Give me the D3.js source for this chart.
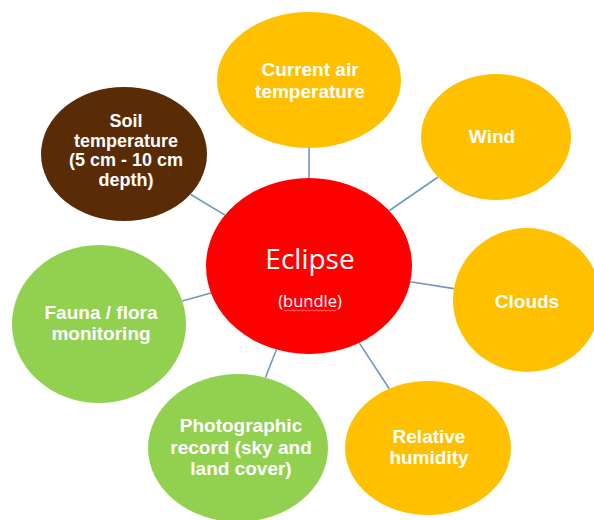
<!DOCTYPE html>
<html>
<head>
	<meta charset="utf-8">
	<title>Eclipse bundle</title>
	<script src="https://cdn.jsdelivr.net/npm/d3@7"></script>
	<style>
		body { margin: 0; background: #fff; }
		svg { display: block; }
	</style>
</head>
<body>
<script>
	// hub + satellites
	var hubLabel = ["Eclipse", "(bundle)"];
	var labels = [
		["Current air", "temperature"],
		["Wind"],
		["Clouds"],
		["Relative", "humidity"],
		["Photographic", "record (sky and", "land cover)"],
		["Fauna / flora", "monitoring"],
		["Soil", "temperature", "(5 cm - 10 cm", "depth)"]
	];
	var groups = ["weather", "weather", "weather", "weather", "biota", "biota", "soil"];

	// layout (pixel geometry, kept apart from the data above)
	var hub = { cx: 309, cy: 266, rx: 103, ry: 88 };
	var layout = [
		{ cx: 309, cy: 80,  rx: 92, ry: 68, tx: 310, size: 19, lh: 22, dy: 0 },
		{ cx: 496, cy: 137, rx: 75, ry: 63, tx: 492, size: 19, lh: 22, dy: -1 },
		{ cx: 527, cy: 300, rx: 74, ry: 72, tx: 527, size: 19, lh: 22, dy: 1 },
		{ cx: 428, cy: 448, rx: 83, ry: 67, tx: 429, size: 19, lh: 21, dy: -1 },
		{ cx: 238, cy: 448, rx: 90, ry: 74, tx: 241, size: 19, lh: 21.5, dy: -1 },
		{ cx: 99,  cy: 324, rx: 87, ry: 79, tx: 101, size: 19, lh: 21, dy: -1 },
		{ cx: 124, cy: 154, rx: 83, ry: 67, tx: 126, size: 18, lh: 19.5, dy: -4 }
	];

	var width = 594
	var height = 520

	var color = d3.scaleOrdinal()
		.domain(["hub", "weather", "biota", "soil"])
		.range(["#ff0000", "#ffc000", "#92d050", "#5a2c06"]);

	var svg = d3.select("body")
		.append("svg")
		.attr("width", width)
		.attr("height", height);

	var nodes = labels.map(function(l, i) {
		return Object.assign({ lines: l, group: groups[i] }, layout[i]);
	});

	// point on ellipse e in direction (dx,dy)
	function edge(e, dx, dy) {
		var t = 1 / Math.sqrt((dx / e.rx) * (dx / e.rx) + (dy / e.ry) * (dy / e.ry));
		return [e.cx + dx * t, e.cy + dy * t];
	}

	// connectors
	svg.append("g")
		.selectAll("line")
		.data(nodes)
		.enter()
		.append("line")
		.each(function(d) {
			var dx = d.cx - hub.cx, dy = d.cy - hub.cy;
			var a = edge(hub, dx, dy);
			var b = edge(d, -dx, -dy);
			d3.select(this)
				.attr("x1", a[0]).attr("y1", a[1])
				.attr("x2", b[0]).attr("y2", b[1]);
		})
		.attr("stroke", "#6f97c3")
		.attr("stroke-width", 1.6);

	// satellites
	var g = svg.append("g")
		.selectAll("g")
		.data(nodes)
		.enter()
		.append("g");

	g.append("ellipse")
		.attr("cx", function(d) { return d.cx; })
		.attr("cy", function(d) { return d.cy; })
		.attr("rx", function(d) { return d.rx; })
		.attr("ry", function(d) { return d.ry; })
		.attr("fill", function(d) { return color(d.group); });

	g.append("text")
		.attr("text-anchor", "middle")
		.attr("fill", "#fff")
		.attr("font-family", "'Liberation Sans', Arial, sans-serif")
		.attr("font-weight", "bold")
		.attr("font-size", function(d) { return d.size; })
		.each(function(d) {
			var y0 = d.cy + d.dy - (d.lines.length - 1) * d.lh / 2 + d.size * 0.36;
			d3.select(this).selectAll("tspan")
				.data(d.lines)
				.enter()
				.append("tspan")
				.attr("x", d.tx)
				.attr("y", function(s, i) { return y0 + i * d.lh; })
				.text(function(s) { return s; });
		});

	// hub
	svg.append("ellipse")
		.attr("cx", hub.cx)
		.attr("cy", hub.cy)
		.attr("rx", hub.rx)
		.attr("ry", hub.ry)
		.attr("fill", color("hub"));

	svg.append("text")
		.attr("x", hub.cx + 1)
		.attr("y", 269)
		.attr("text-anchor", "middle")
		.attr("fill", "#fff")
		.attr("font-family", "'Open Sans', 'Noto Sans', sans-serif")
		.attr("font-size", 28)
		.text(hubLabel[0]);

	var sub = svg.append("text")
		.attr("x", hub.cx + 1)
		.attr("y", 307)
		.attr("text-anchor", "middle")
		.attr("fill", "#fff")
		.attr("font-family", "'Open Sans', 'Noto Sans', sans-serif")
		.attr("font-size", 16.5)
		.text(hubLabel[1]);

	// spell-check squiggle under the word
	var bb = sub.node().getBBox();
	var pts = d3.range(bb.x + 6, bb.x + bb.width - 5, 2).map(function(x, i) {
		return [x, 310 + (i % 2 ? 1 : 0)];
	});
	svg.append("path")
		.attr("d", d3.line()(pts))
		.attr("fill", "none")
		.attr("stroke", "#f4a0a0")
		.attr("stroke-width", 0.8);
</script>
</body>
</html>
